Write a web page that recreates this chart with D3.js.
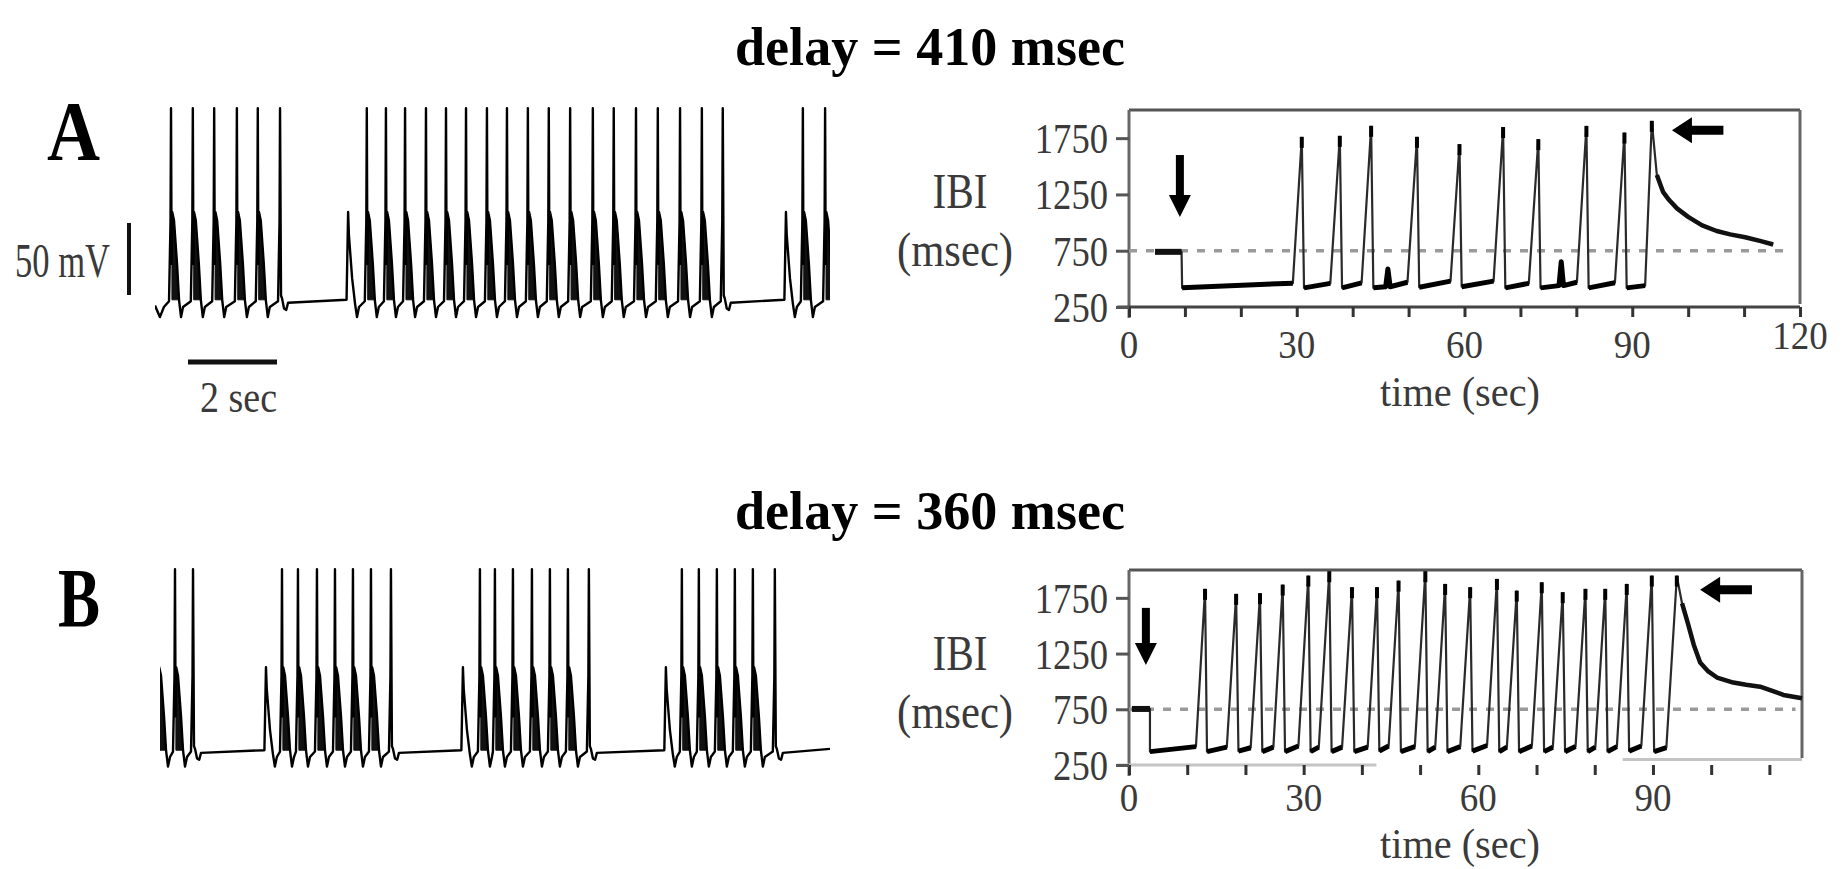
<!DOCTYPE html>
<html><head><meta charset="utf-8">
<script src="https://cdn.jsdelivr.net/npm/d3@7"></script>
<style>body{margin:0;background:#fff}svg{display:block}</style>
</head><body>
<svg id="c" width="1843" height="869"></svg>
<script>
// ---------- DATA ----------
const titles = ["delay = 410 msec", "delay = 360 msec"];
const panelLabels = ["A", "B"];
const scaleBarLabels = ["50 mV", "2 sec"];
const axisTitleX = "time (sec)";
const axisTitleY = ["IBI", "(msec)"];

// voltage traces: spike peak times (sec)
const traceA_regular = [0.36,0.85,1.33,1.84,2.31,4.76,5.19,5.62,6.09,6.54,6.99,7.46,7.91,8.38,8.85,9.33,9.84,10.31,10.81,11.30,11.80,12.29,14.56,15.06];
const traceA_last = [2.81,12.76];
const traceA_half = [4.34,14.18];
const traceA_start = [[0,1],[0.11,-7],[0.2,0]];
const traceA_end = [];
const traceB_regular = [-0.045,0.337,2.742,3.101,3.528,3.933,4.337,4.742,7.191,7.528,7.933,8.360,8.764,9.169,11.730,12.112,12.517,12.921,13.326];
const traceB_last = [0.742,5.191,9.640,13.820];
const traceB_half = [2.382,6.809,11.371];
const traceB_start = [];
const traceB_end = [[15.06,6]];

// spike waveforms (ms after peak, mV above rest)
const regularShape_t = [-45,-11,0,13,27,67,135,180,225,270];
const regularShape_v = [4,60,138,30,66,60,30,5,-7,0];
const lastShape_t = [-45,-11,0,22,45,90,140,180];
const lastShape_v = [4,60,138,8,6,-1,-2,3];
const halfShape_t = [-35,0,18,90,157,200,245];
const halfShape_v = [5,66,50,20,2,-7,0];
const shoulder_t = [20,27,67,135,180,20];
const shoulder_v = [40,66,60,30,5,5];

// IBI series A (delay 410 msec)
const ibiA_pre = [[4.65,740],[9.4,740]];
const ibiA_lows = [
  [[9.5,420],[29.3,462]],
  [[31.3,420],[36.0,460]],
  [[38.1,420],[41.6,465]],
  [[43.7,420],[45.9,430],[46.3,587],[46.7,430],[49.8,470]],
  [[51.9,425],[57.5,480]],
  [[59.5,430],[65.2,480]],
  [[67.3,420],[71.5,460]],
  [[73.6,420],[76.9,440],[77.3,652],[77.7,440],[80.1,470]],
  [[82.2,420],[86.9,465]],
  [[89.0,420],[92.3,440]]
];
const ibiA_peakT = [30.9,37.7,43.3,51.5,59.1,66.9,73.2,81.8,88.6,93.5];
const ibiA_peakV = [1753,1762,1851,1753,1688,1840,1732,1850,1791,1895];
const ibiA_decayT = [94.4,95.5,96.6,98.0,100.0,102.5,105.1,107.5,110.2,113.0,115.2];
const ibiA_decayV = [1422,1273,1200,1126,1051,975,925,895,870,835,805];

// IBI series B (delay 360 msec)
const ibiB_pre = [[0.5,753],[3.6,753]];
const ibiB_lows = [
  [[3.6,370],[11.5,415]],[[13.4,370],[16.8,410]],[[18.8,375],[20.9,405]],
  [[22.9,370],[24.8,410]],[[26.8,370],[29.1,420]],[[31.2,370],[32.6,410]],
  [[34.8,370],[36.6,410]],[[38.7,370],[41.0,410]],[[43.0,375],[44.6,420]],
  [[46.7,370],[49.1,415]],[[51.3,370],[52.6,410]],[[54.7,370],[56.9,415]],
  [[59.0,375],[61.5,425]],[[63.6,370],[64.9,410]],[[67.0,370],[69.2,420]],
  [[71.3,370],[72.8,410]],[[74.9,370],[76.7,415]],[[78.8,370],[80.1,410]],
  [[82.2,370],[83.8,415]],[[85.9,375],[88.0,420]],[[90.2,370],[92.3,405]]
];
const ibiB_peakT = [13.06,18.4,22.5,26.4,30.8,34.4,38.3,42.6,46.3,50.9,54.3,58.6,63.2,66.6,70.9,74.5,78.4,81.8,85.5,89.8,94.1];
const ibiB_peakV = [1822,1777,1783,1860,1941,1980,1837,1837,1896,1980,1866,1837,1911,1806,1881,1792,1822,1822,1866,1941,1941];
const ibiB_decayT = [95.0,96.0,97.0,98.1,99.5,101.0,103.8,106.0,108.4,110.5,112.4,115.6];
const ibiB_decayV = [1700,1522,1330,1170,1090,1035,990,970,953,915,879,849];

const ibiTicksY = [250,750,1250,1750];
const ibiLabelsXA = [0,30,60,90,120];
const ibiLabelsXB = [0,30,60,90];
const ibiMinorXA = [0,10,20,30,40,50,60,70,80,90,100,110,120];
const ibiMinorXB = [0,10,20,30,40,50,60,70,80,90,100,110];
const referenceIBI = 750;
// arrows: [time, from value, to value] / [from time, to time, value]
const arrowDownA = [9.1,1600,1049];
const arrowLeftA = [106.3,97.1,1821];
const arrowDownB = [2.9,1660,1148];
const arrowLeftB = [107.0,98.1,1822];

// ---------- DRAW ----------
const svg = d3.select("#c");
const SERIF = "'Liberation Serif','Times New Roman',serif";

function txt(str, x, y, size, len, opts={}) {
  const t = svg.append("text").attr("x",x).attr("y",y).text(str)
    .attr("font-family",SERIF).attr("font-size",size)
    .attr("fill",opts.fill||"#3a3a3a").attr("font-weight",opts.bold?"bold":"normal")
    .attr("text-anchor",opts.anchor||"start");
  if (len) t.attr("textLength",len).attr("lengthAdjust","spacingAndGlyphs");
  return t;
}

// titles & panel labels
txt(titles[0],735,65,54,390,{bold:true,fill:"#000"});
txt(titles[1],735,529,54,390,{bold:true,fill:"#000"});
txt(panelLabels[0],47,160,84,53,{bold:true,fill:"#000"});
txt(panelLabels[1],58,627,84,42,{bold:true,fill:"#000"});

const shapes = {
  r:{t:regularShape_t,v:regularShape_v},
  l:{t:lastShape_t,v:lastShape_v},
  h:{t:halfShape_t,v:halfShape_v}
};
function buildTrace(reg,last,half,start,end){
  const ev=[].concat(reg.map(t=>({t,k:"r"})),last.map(t=>({t,k:"l"})),half.map(t=>({t,k:"h"}))).sort((a,b)=>a.t-b.t);
  const pts=start.slice(), fills=[];
  ev.forEach(e=>{
    const s=shapes[e.k];
    s.t.forEach((dt,i)=>pts.push([e.t+dt/1000,s.v[i]]));
    if(e.k==="r") fills.push(shoulder_t.map((dt,i)=>[e.t+dt/1000,shoulder_v[i]]));
  });
  end.forEach(p=>pts.push(p));
  return {pts,fills};
}
function drawTrace(id,data,xs,ys){
  svg.append("clipPath").attr("id",id).append("rect")
    .attr("x",xs.range()[0]).attr("y",0).attr("width",xs.range()[1]-xs.range()[0]).attr("height",869);
  const g=svg.append("g").attr("clip-path",`url(#${id})`);
  const ln=d3.line().x(d=>xs(d[0])).y(d=>ys(d[1]));
  g.selectAll("path.f").data(data.fills).join("path").attr("class","f")
    .attr("d",d=>ln(d)+"Z").attr("fill","#111").attr("stroke","#111").attr("stroke-width",1);
  g.append("path").attr("d",ln(data.pts)).attr("fill","none")
    .attr("stroke","#000").attr("stroke-width",2.4).attr("stroke-linejoin","round");
}
const xTA=d3.scaleLinear().domain([0,15.17]).range([155,830]);
const yTA=d3.scaleLinear().domain([0,50]).range([307,235]);
const xTB=d3.scaleLinear().domain([0,15.06]).range([160,830]);
const yTB=d3.scaleLinear().domain([0,50]).range([757,689]);
drawTrace("clipA",buildTrace(traceA_regular,traceA_last,traceA_half,traceA_start,traceA_end),xTA,yTA);
drawTrace("clipB",buildTrace(traceB_regular,traceB_last,traceB_half,traceB_start,traceB_end),xTB,yTB);

// scale bars (A)
const yBar=d3.scaleLinear().domain([0,50]).range([295,223]);
svg.append("line").attr("x1",129).attr("x2",129).attr("y1",yBar(0)).attr("y2",yBar(50))
  .attr("stroke","#111").attr("stroke-width",4);
txt(scaleBarLabels[0],15,277,48,95);
const xBar=d3.scaleLinear().domain([0,2]).range([188,277]);
svg.append("line").attr("x1",xBar(0)).attr("x2",xBar(2)).attr("y1",362).attr("y2",362)
  .attr("stroke","#111").attr("stroke-width",5);
txt(scaleBarLabels[1],200,412,44,77);

// IBI panels
function ibiPanel(o){
  const {x,y,pre,lows,peakT,peakV,decayT,decayV,labelsX,minorX,labelY,arrowDown,arrowLeft,xEnd,dashEnd,bottomSegs}=o;
  const g=svg.append("g");
  const ln=d3.line().x(d=>x(d[0])).y(d=>y(d[1]));
  // frame
  const x0=x(0), x1=x(xEnd), yT=y(2000), yB=y(250);
  g.append("line").attr("x1",x0).attr("x2",x1).attr("y1",yT).attr("y2",yT).attr("stroke","#555").attr("stroke-width",3);
  g.append("line").attr("x1",x0).attr("x2",x0).attr("y1",yT).attr("y2",yB+11).attr("stroke","#666").attr("stroke-width",3);
  g.append("line").attr("x1",x1).attr("x2",x1).attr("y1",yT).attr("y2",yB-o.rightShort).attr("stroke","#666").attr("stroke-width",3);
  bottomSegs.forEach(s=>g.append("line").attr("x1",x(s[0])).attr("x2",x(s[1])).attr("y1",y(s[2])).attr("y2",y(s[2]))
    .attr("stroke",s[3]).attr("stroke-width",3));
  // ticks
  g.append("g").attr("transform",`translate(0,${yB})`)
    .call(d3.axisBottom(x).tickValues(minorX).tickSize(10).tickFormat(""))
    .call(a=>{a.select(".domain").remove();a.selectAll("line").attr("stroke","#333").attr("stroke-width",3);});
  g.append("g").attr("transform",`translate(${x0},0)`)
    .call(d3.axisLeft(y).tickValues(ibiTicksY).tickSize(13).tickFormat(""))
    .call(a=>{a.select(".domain").remove();a.selectAll("line").attr("stroke","#555").attr("stroke-width",3);});
  // tick labels
  ibiTicksY.forEach(v=>{
    const s=String(v);
    txt(s,1108,y(v)+15,43,s.length*18.3,{anchor:"end"});
  });
  labelsX.forEach(v=>{
    const s=String(v);
    txt(s,x(v),o.labelXBase+(v===120?-9:0),40,s.length*18.5,{anchor:"middle"});
  });
  txt(axisTitleX,1380,o.titleXBase,42,160);
  txt(axisTitleY[0],960,labelY,50,55,{anchor:"middle"});
  txt(axisTitleY[1],897,labelY+58,48,116);
  // reference dashed line
  g.append("line").attr("x1",x0).attr("x2",x(dashEnd)).attr("y1",y(referenceIBI)).attr("y2",y(referenceIBI))
    .attr("stroke","#9a9a9a").attr("stroke-width",3.5).attr("stroke-dasharray","8,9");
  // series vertices
  const pts=pre.slice();
  lows.forEach((lw,i)=>{lw.forEach(p=>pts.push(p));pts.push([peakT[i],peakV[i]]);});
  decayT.forEach((t,i)=>pts.push([t,decayV[i]]));
  g.append("path").attr("d",ln(pts)).attr("fill","none").attr("stroke","#2a2a2a").attr("stroke-width",2.2).attr("stroke-linejoin","round");
  g.append("path").attr("d",ln(pre)).attr("fill","none").attr("stroke","#111").attr("stroke-width",6);
  lows.forEach(lw=>g.append("path").attr("d",ln(lw)).attr("fill","none").attr("stroke","#000").attr("stroke-width",5).attr("stroke-linejoin","round"));
  g.append("path").attr("d",ln(decayT.map((t,i)=>[t,decayV[i]]))).attr("fill","none").attr("stroke","#111").attr("stroke-width",4.5).attr("stroke-linejoin","round");
  g.selectAll("rect.pk").data(peakT).join("rect").attr("class","pk")
    .attr("x",(d)=>x(d)-2).attr("y",(d,i)=>y(peakV[i])-1).attr("width",4).attr("height",11).attr("fill","#000");
  // arrows
  const ax=x(arrowDown[0]), ay0=y(arrowDown[1]), ay1=y(arrowDown[2]);
  g.append("line").attr("x1",ax).attr("x2",ax).attr("y1",ay0).attr("y2",ay1-18).attr("stroke","#000").attr("stroke-width",8);
  g.append("path").attr("d",`M${ax-11},${ay1-22}L${ax+11},${ay1-22}L${ax},${ay1}Z`).attr("fill","#000");
  const lx0=x(arrowLeft[0]), lx1=x(arrowLeft[1]), ly=y(arrowLeft[2]);
  g.append("line").attr("x1",lx0).attr("x2",lx1+16).attr("y1",ly).attr("y2",ly).attr("stroke","#000").attr("stroke-width",9);
  g.append("path").attr("d",`M${lx1+20},${ly-13}L${lx1+20},${ly+13}L${lx1},${ly}Z`).attr("fill","#000");
}

const xIA=d3.scaleLinear().domain([0,120]).range([1129,1800]);
const yIA=d3.scaleLinear().domain([250,2000]).range([307,110]);
ibiPanel({x:xIA,y:yIA,pre:ibiA_pre,lows:ibiA_lows,peakT:ibiA_peakT,peakV:ibiA_peakV,decayT:ibiA_decayT,decayV:ibiA_decayV,
  labelsX:ibiLabelsXA,minorX:ibiMinorXA,labelY:208,arrowDown:arrowDownA,arrowLeft:arrowLeftA,xEnd:120,dashEnd:118.2,
  rightShort:3,labelXBase:358,titleXBase:406,
  bottomSegs:[[-2.1,120,250,"#444"]]});

const xIB=d3.scaleLinear().domain([0,115.6]).range([1129,1802]);
const yIB=d3.scaleLinear().domain([250,2000]).range([765,570]);
ibiPanel({x:xIB,y:yIB,pre:ibiB_pre,lows:ibiB_lows,peakT:ibiB_peakT,peakV:ibiB_peakV,decayT:ibiB_decayT,decayV:ibiB_decayV,
  labelsX:ibiLabelsXB,minorX:ibiMinorXB,labelY:670,arrowDown:arrowDownB,arrowLeft:arrowLeftB,xEnd:115.6,dashEnd:114.5,
  rightShort:7,labelXBase:811,titleXBase:858,
  bottomSegs:[[-2.1,42.5,250,"#c4c4c4"],[84.8,115.6,300,"#c4c4c4"]]});
</script>
</body></html>
